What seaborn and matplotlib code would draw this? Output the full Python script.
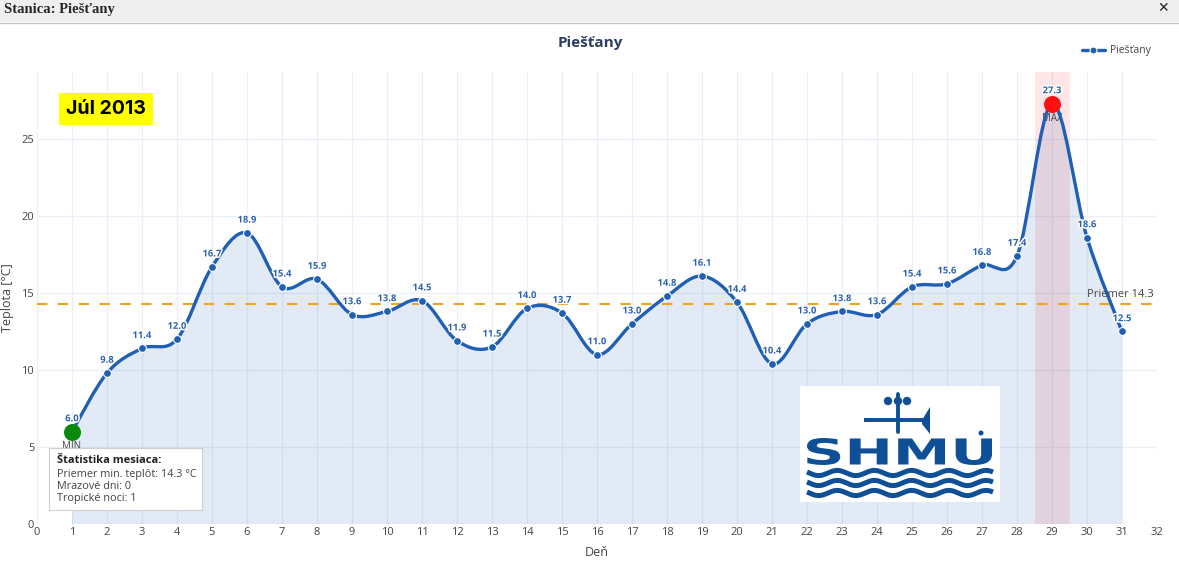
import numpy as np
import pandas as pd
import matplotlib
matplotlib.use("Agg")
import matplotlib.pyplot as plt
import matplotlib.patheffects as pe
from matplotlib.path import Path
from matplotlib.patches import PathPatch, Rectangle, Circle, Polygon
from matplotlib.lines import Line2D
from matplotlib.textpath import TextPath
from matplotlib.font_manager import FontProperties
from matplotlib.transforms import Affine2D
import seaborn as sns

# Data
STATION = "Piešťany"
MONTH_LABEL = "Júl 2013"
days = list(range(1, 32))
temps = [6.0, 9.8, 11.4, 12.0, 16.7, 18.9, 15.4, 15.9, 13.6, 13.8,
         14.5, 11.9, 11.5, 14.0, 13.7, 11.0, 13.0, 14.8, 16.1, 14.4,
         10.4, 13.0, 13.8, 13.6, 15.4, 15.6, 16.8, 17.4, 27.3, 18.6, 12.5]
mean_temp = 14.3
stats_lines = ["Priemer min. teplôt: 14.3 °C", "Mrazové dni: 0", "Tropické noci: 1"]

LINE_C = "#1f5fb4"
LABEL_C = "#2f64ad"
TEXT_C = "#444444"
TITLE_C = "#2a3f5f"


def spline_path(xs, ys, close_to=None):
    """Catmull-Rom style smooth path (like plotly spline) through the points."""
    pts = np.column_stack([xs, ys]).astype(float)
    verts = [tuple(pts[0])]
    codes = [Path.MOVETO]
    n = len(pts)
    for i in range(n - 1):
        p0 = pts[i - 1] if i > 0 else pts[i]
        p1 = pts[i]
        p2 = pts[i + 1]
        p3 = pts[i + 2] if i + 2 < n else pts[i + 1]
        c1 = p1 + (p2 - p0) / 6.0
        c2 = p2 - (p3 - p1) / 6.0
        verts += [tuple(c1), tuple(c2), tuple(p2)]
        codes += [Path.CURVE4] * 3
    if close_to is not None:
        verts += [(xs[-1], close_to), (xs[0], close_to), (xs[0], ys[0])]
        codes += [Path.LINETO, Path.LINETO, Path.CLOSEPOLY]
    return Path(verts, codes)


def draw_logo(fig):
    """Rough SHMU logo: anemometer, wide bold letters, three waves."""
    logo = fig.add_axes([800 / 1179, (565 - 502) / 565, 200 / 1179, 116 / 565])
    logo.set_xlim(0, 200)
    logo.set_ylim(0, 116)
    logo.axis("off")
    logo.add_patch(Rectangle((0, 0), 200, 116, facecolor="white", edgecolor="none"))
    blue = "#0f4f96"

    tp = TextPath((0, 0), "SHMU", prop=FontProperties(family="DejaVu Sans", weight="bold"))
    ext = tp.get_extents()
    sx = 185 / ext.width
    sy = 27 / ext.height
    tr = Affine2D().translate(-ext.x0, -ext.y0).scale(sx, sy).translate(7, 37)
    logo.add_patch(PathPatch(tr.transform_path(tp), facecolor=blue, edgecolor="none"))
    logo.add_patch(Circle((181, 69), 2.5, facecolor=blue, edgecolor="none"))

    wx = np.linspace(7, 193, 200)
    for k in range(3):
        logo.plot(wx, 29 - k * 10 + 2.6 * np.sin(wx / 186 * 2 * np.pi * 5 + np.pi / 2),
                  color=blue, lw=3.6, solid_capstyle="butt")

    logo.plot([98, 98], [70, 108], color=blue, lw=2.8)
    logo.plot([68, 124], [82, 82], color=blue, lw=2.8)
    logo.add_patch(Rectangle((64, 80), 8, 4, facecolor=blue, edgecolor="none"))
    logo.add_patch(Polygon([(122, 82), (130, 95), (130, 68), (122, 78)],
                           facecolor=blue, edgecolor="none"))
    for cx in (88, 98, 107):
        logo.add_patch(Circle((cx, 101), 4.2, facecolor=blue, edgecolor="none"))


def main():
    df = pd.DataFrame({"den": days, "teplota": temps})

    sns.set_theme(style="whitegrid")
    plt.rcParams["font.family"] = ["Open Sans", "DejaVu Sans"]

    fig = plt.figure(figsize=(11.79, 5.65), dpi=100)
    fig.patch.set_facecolor("white")

    # window title bar
    fig.add_artist(Rectangle((0, 1 - 22 / 565), 1, 22 / 565, transform=fig.transFigure,
                             facecolor="#efefef", edgecolor="none"))
    fig.add_artist(Line2D([0, 1], [1 - 23 / 565] * 2, transform=fig.transFigure,
                          color="#c8c8c8", lw=1))
    fig.text(4 / 1179, 1 - 10 / 565, "Stanica: " + STATION, ha="left", va="center",
             fontsize=10.5, fontweight="bold", family=["Liberation Serif", "DejaVu Serif"])
    fig.text(1163 / 1179, 1 - 8 / 565, "✕", ha="center", va="center", fontsize=10,
             fontweight="bold", family=["DejaVu Sans"])

    ax = fig.add_axes([37 / 1179, 41 / 565, 1120 / 1179, 452 / 565])
    ax.set_facecolor("white")

    # max highlight band
    imax = int(np.argmax(temps))
    imin = int(np.argmin(temps))
    ax.axvspan(days[imax] - 0.5, days[imax] + 0.5, color="#ff0000", alpha=0.1, lw=0, zorder=1)

    # area + smooth line
    ax.add_patch(PathPatch(spline_path(days, temps, close_to=0), facecolor="#1f5fb4",
                           alpha=0.13, edgecolor="none", zorder=2))
    ax.add_patch(PathPatch(spline_path(days, temps), facecolor="none", edgecolor=LINE_C,
                           lw=2.4, zorder=3, capstyle="round"))

    # mean line
    ax.axhline(mean_temp, color="#f0a31e", lw=1.5, ls=(0, (5, 5)), zorder=2.5)
    ax.text(31.9, mean_temp + 0.25, f"Priemer {mean_temp}", ha="right", va="bottom",
            fontsize=8, color=TEXT_C, zorder=6)

    # markers
    sns.scatterplot(data=df, x="den", y="teplota", ax=ax, color=LINE_C, s=32,
                    edgecolor="white", linewidth=0.8, zorder=4, legend=False)
    ax.scatter([days[imin]], [temps[imin]], s=150, color="#0a8a0a", zorder=5, lw=0)
    ax.scatter([days[imax]], [temps[imax]], s=150, color="#ff1010", zorder=5, lw=0)

    stroke = [pe.withStroke(linewidth=2.2, foreground="white")]
    for d, t in zip(days, temps):
        ax.annotate(f"{t:.1f}", (d, t), xytext=(0, 6), textcoords="offset points",
                    ha="center", va="bottom", fontsize=6.8, fontweight="bold",
                    color=LABEL_C, path_effects=stroke, zorder=6)
    ax.annotate("MIN", (days[imin], temps[imin]), xytext=(0, -7), textcoords="offset points",
                ha="center", va="top", fontsize=7, color=TEXT_C, zorder=6)
    ax.annotate("MAX", (days[imax], temps[imax]), xytext=(0, -7), textcoords="offset points",
                ha="center", va="top", fontsize=7, color=TEXT_C, zorder=2.8)

    ax.set_xlim(0, 32)
    ax.set_ylim(0, 29.35)
    ax.set_xticks(range(0, 33))
    ax.set_yticks([0, 5, 10, 15, 20, 25])
    ax.grid(True, color="#ebf0f8", lw=1)
    for s in ax.spines.values():
        s.set_visible(False)
    ax.tick_params(axis="both", labelsize=8, colors=TEXT_C, length=0, pad=2)

    ax.set_xlabel("Deň", fontsize=9, color=TEXT_C, labelpad=6)
    ax.set_ylabel("")
    fig.text(8 / 1179, 1 - 298 / 565, "Teplota [°C]", rotation=90, ha="center", va="center",
             fontsize=9, color=TEXT_C)

    fig.text(590 / 1179, 1 - 43 / 565, STATION, ha="center", va="center",
             fontsize=11, fontweight="bold", color=TITLE_C)

    # legend
    handle = Line2D([], [], color=LINE_C, lw=2.4, marker="o", markersize=5,
                    markeredgecolor="white", markeredgewidth=0.8)
    fig.legend([handle], [STATION], loc="center right",
               bbox_to_anchor=(1160 / 1179, 1 - 51 / 565), frameon=False,
               fontsize=7.5, labelcolor=TEXT_C, handlelength=2.2, handletextpad=0.5)

    # month badge
    ax.text(1.97, 26.95, MONTH_LABEL, ha="center", va="center", fontsize=14,
            fontweight="bold", color="black", family=["Inter", "Roboto", "DejaVu Sans"],
            bbox=dict(boxstyle="square,pad=0.38", facecolor="#ffff00", edgecolor="none"),
            zorder=7)

    # month statistics box
    box = fig.add_axes([49 / 1179, (565 - 510) / 565, 153 / 1179, 62 / 565])
    box.set_xlim(0, 1)
    box.set_ylim(0, 1)
    box.set_xticks([])
    box.set_yticks([])
    box.set_facecolor("white")
    for s in box.spines.values():
        s.set_color("#cfcfcf")
        s.set_linewidth(0.8)
    box.text(0.05, 0.80, "Štatistika mesiaca:", fontsize=8, fontweight="bold",
             color="#222222", va="center")
    for k, line in enumerate(stats_lines):
        box.text(0.05, 0.58 - k * 0.2, line, fontsize=7.8, color=TEXT_C, va="center")

    draw_logo(fig)

    fig.savefig("out.png", dpi=100)
    plt.close(fig)


if __name__ == "__main__":
    main()
